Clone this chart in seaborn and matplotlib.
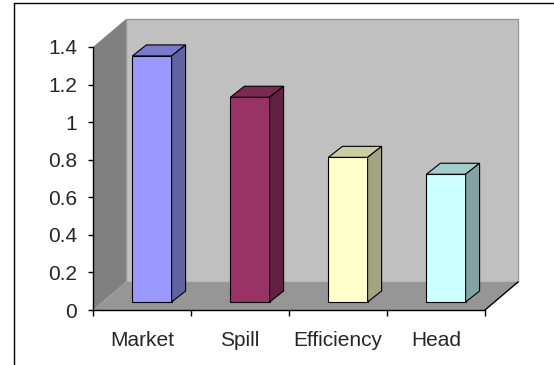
import matplotlib
matplotlib.use("Agg")
import matplotlib.pyplot as plt
import matplotlib.colors as mcolors
from matplotlib.patches import Polygon
from matplotlib.transforms import Affine2D, IdentityTransform
from matplotlib.lines import Line2D
import seaborn as sns

categories = ["Market", "Spill", "Efficiency", "Head"]
values = [1.31, 1.09, 0.77, 0.68]
bar_colors = ["#9999FF", "#993366", "#FFFFCC", "#CCFFFF"]
yticks = [0, 0.2, 0.4, 0.6, 0.8, 1.0, 1.2, 1.4]
ytick_labels = ["0", "0.2", "0.4", "0.6", "0.8", "1", "1.2", "1.4"]

sns.set_style("white")
plt.rcParams["font.family"] = ["Liberation Sans", "DejaVu Sans"]

W, H = 554, 365
fig = plt.figure(figsize=(W / 100, H / 100), dpi=100)
fig.patch.set_facecolor("white")
ax = fig.add_axes([93 / W, (H - 310) / H, (485 - 93) / W, (310 - 47) / H])

# front faces of the columns
sns.barplot(x=categories, y=values, hue=categories, palette=bar_colors,
            width=0.4, saturation=1, edgecolor="black", linewidth=0.8,
            legend=False, ax=ax, zorder=3)
ax.set_xlim(-0.5, 3.5)
ax.set_ylim(0, 1.4)

# fake 3d: offsets in pixels
wall_depth = (33, 28)
bar_front = (10, 8)
bar_depth = (14, 11)

def to_px(x, y, off=(0, 0)):
    px, py = ax.transData.transform((x, y))
    return (px + off[0], py + off[1])

def add_poly(pts, face, edge="none", lw=0.0, z=1):
    ax.add_patch(Polygon(pts, closed=True, facecolor=face, edgecolor=edge,
                         linewidth=lw, transform=IdentityTransform(),
                         clip_on=False, zorder=z))

p00 = to_px(-0.5, 0)
p10 = to_px(3.5, 0)
p01 = to_px(-0.5, 1.4)
p11 = to_px(3.5, 1.4)
D = wall_depth
sh = lambda p: (p[0] + D[0], p[1] + D[1])

add_poly([p00, p01, sh(p01), sh(p00)], "#808080", z=0.5)
add_poly([sh(p00), sh(p10), sh(p11), sh(p01)], "#C0C0C0", "#999999", 1.0, z=0.5)
add_poly([p00, p10, sh(p10), sh(p00)], "#969696", z=0.6)
ax.add_line(Line2D([p10[0], sh(p10)[0]], [p10[1], sh(p10)[1]], color="black",
                   lw=1.0, transform=IdentityTransform(), clip_on=False, zorder=2))

for patch, col in zip(ax.patches[:len(categories)], bar_colors):
    x0, w = patch.get_x(), patch.get_width()
    h = patch.get_height()
    patch.set_transform(ax.transData + Affine2D().translate(*bar_front))
    patch.set_clip_on(False)
    tl = to_px(x0, h, bar_front)
    tr = to_px(x0 + w, h, bar_front)
    br = to_px(x0 + w, 0, bar_front)
    dx, dy = bar_depth
    rgb = mcolors.to_rgb(col)
    top_c = tuple(c * 0.8 for c in rgb)
    side_c = tuple(c * 0.64 for c in rgb)
    add_poly([tl, tr, (tr[0] + dx, tr[1] + dy), (tl[0] + dx, tl[1] + dy)],
             top_c, "black", 0.8, z=3)
    add_poly([br, tr, (tr[0] + dx, tr[1] + dy), (br[0] + dx, br[1] + dy)],
             side_c, "black", 0.8, z=3)

# axes and ticks
ax.set_facecolor("white")
for s in ["top", "right"]:
    ax.spines[s].set_visible(False)
for s in ["left", "bottom"]:
    ax.spines[s].set_color("black")
    ax.spines[s].set_linewidth(1.0)
    ax.spines[s].set_zorder(4)

ax.set_yticks(yticks)
ax.set_yticklabels(ytick_labels)
ax.set_xticks(range(len(categories)))
ax.set_xticklabels(categories)
ax.set_xticks([-0.5, 0.5, 1.5, 2.5, 3.5], minor=True)
ax.tick_params(axis="y", length=3.5, width=1, color="black", pad=8,
               labelsize=15, left=True, direction="out")
ax.tick_params(axis="x", which="major", length=0, pad=15, labelsize=15)
ax.tick_params(axis="x", which="minor", length=4, width=1, color="black",
               bottom=True, direction="out")
ax.set_xlabel("")
ax.set_ylabel("")

# chart border (runs off the right and bottom edges)
fig.add_artist(Line2D([14 / W, 14 / W], [0, (H - 3) / H], transform=fig.transFigure,
                      color="black", lw=1.0))
fig.add_artist(Line2D([14 / W, 1], [(H - 3) / H, (H - 3) / H], transform=fig.transFigure,
                      color="black", lw=1.0))

fig.savefig("out.png", dpi=100)
